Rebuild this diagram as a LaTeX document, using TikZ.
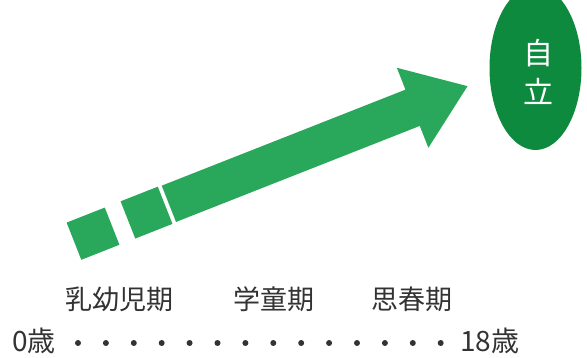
\documentclass[tikz,border=0pt]{standalone}
\usepackage{fontspec}
\setmainfont{Noto Sans CJK JP}
\usetikzlibrary{shapes.geometric}
\definecolor{arrowgreen}{HTML}{29A85B}
\definecolor{ovalgreen}{HTML}{0E8A3E}
\definecolor{txt}{HTML}{333333}
\tikzset{
  barpart/.style={fill=arrowgreen, draw=none},
  label/.style={inner sep=0pt, text=txt, font=\fontsize{27}{30}\selectfont},
  agelabel/.style={inner sep=0pt, text=txt, font=\fontsize{28}{30}\selectfont},
  agedot/.style={fill=txt},
}
\begin{document}
\begin{tikzpicture}[x=1pt,y=-1pt]
\useasboundingbox (0,0) rectangle (587,358);
% arrow made of two squares and a long arrow
\begin{scope}[shift={(93.5,233.5)}, rotate=21.5]
  \fill[barpart] (-21,-20) rectangle (20,20);
  \fill[barpart] (37,-20) rectangle (77,20);
  \fill[barpart] (81,-19.5) -- (343,-19.5) -- (343,-43) -- (402,0) -- (343,43) -- (343,19.5) -- (81,19.5) -- cycle;
\end{scope}
% goal oval
\node[ellipse, fill=ovalgreen, minimum width=92pt, minimum height=164pt, inner sep=0pt] (goal) at (535.5,68) {};
\node[inner sep=0pt, text=white, font=\fontsize{30}{39}\selectfont, align=center] (goaltext) at (538,71.5) {自\\立};
% stage labels
\node[label, anchor=west] (infant) at (65,299) {乳幼児期};
\node[label] (school) at (274,299) {学童期};
\node[label] (teen) at (412,299) {思春期};
% age axis
\node[agelabel, anchor=west] (age0) at (12,341) {0歳};
\node[agelabel, anchor=west] (age18) at (460,341) {18歳};
\foreach \i in {0,...,13} {
  \fill[agedot] ({78+\i*27.9},343) circle (3);
}
\end{tikzpicture}
\end{document}
